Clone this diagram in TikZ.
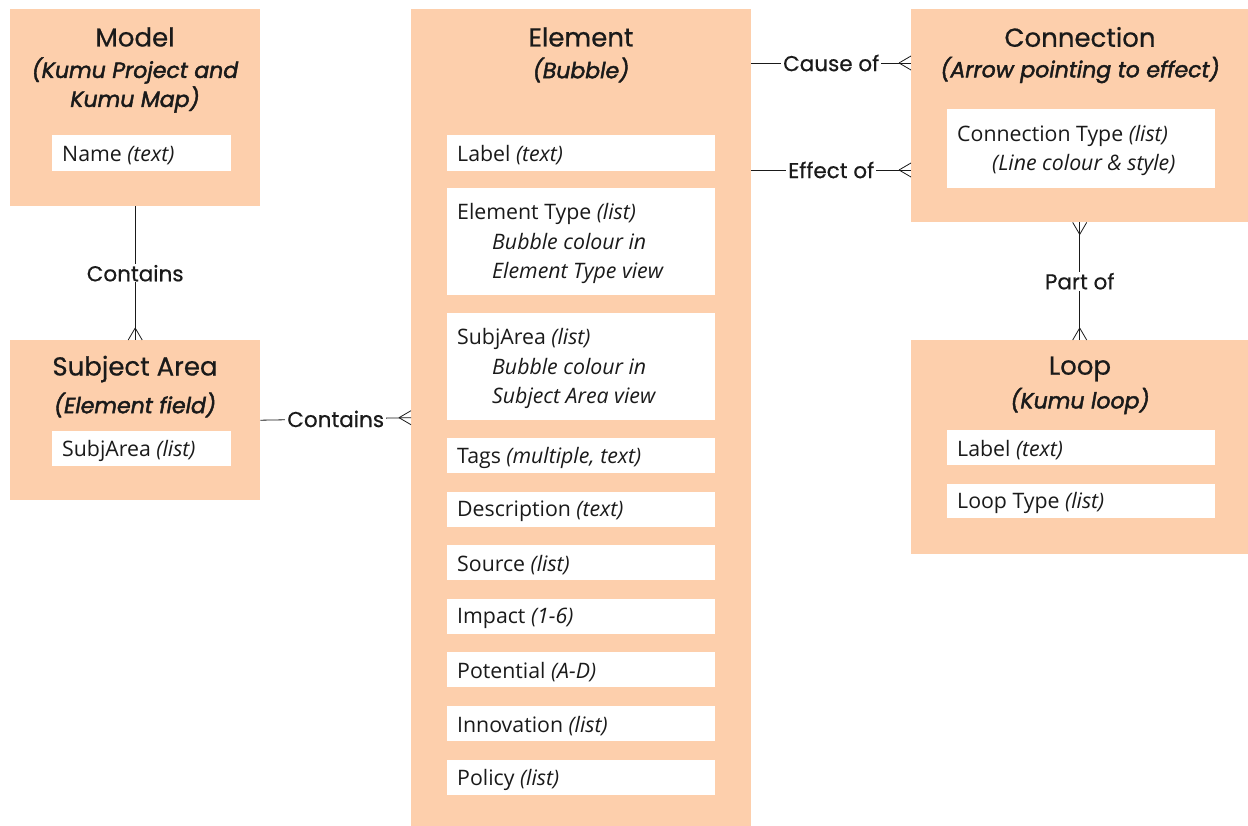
\documentclass[tikz,border=0pt]{standalone}
\usepackage{fontspec}
\setmainfont{Open Sans}
\newfontfamily\headfont{Poppins}[UprightFeatures={FakeBold=0.6}]
\newfontfamily\subfont{Poppins}[UprightFont=* Italic, UprightFeatures={FakeBold=2}]
\usetikzlibrary{calc}
\definecolor{peach}{HTML}{FDCFAC}
\definecolor{ink}{HTML}{1A1A1A}
\tikzset{
  entity/.style={fill=peach, draw=none, anchor=north west, inner sep=0pt},
  fieldbox/.style={fill=white, draw=none, anchor=north west, inner sep=0pt},
  fieldtext/.style={anchor=west, inner sep=0pt, align=left, text=ink,
    font=\fontsize{21.3}{29.5}\selectfont},
  title/.style={font=\headfont\fontsize{26}{30}\selectfont, text=ink, inner sep=0pt},
  subtitle/.style={font=\subfont\fontsize{22}{29}\selectfont, text=ink, inner sep=0pt, align=center},
  rel/.style={draw=ink, line width=0.8pt},
  rellabel/.style={fill=white, inner xsep=2pt, inner ysep=1pt, text=ink,
    font=\headfont\fontsize{21.5}{22}\selectfont},
}
\newcommand{\ind}{\hspace*{35pt}}
% \attr{name}{x}{y}{width}{height}{text}: white attribute field with its text
\newcommand{\attr}[6]{%
  \node[fieldbox, minimum width=#4pt, minimum height=#5pt] (#1) at (#2,#3) {};
  \node[fieldtext] (#1-t) at ($(#1.west)+(10,2)$) {#6};
}
\begin{document}
\begin{tikzpicture}[x=1pt,y=-1pt]
\useasboundingbox[fill=white] (0,0) rectangle (1248,826);

% entity boxes
\node[entity, minimum width=250pt, minimum height=197pt] (model) at (10,9) {};
\node[entity, minimum width=250pt, minimum height=160pt] (subj) at (10,340) {};
\node[entity, minimum width=340pt, minimum height=817pt] (elem) at (411,9) {};
\node[entity, minimum width=337pt, minimum height=213pt] (conn) at (911,9) {};
\node[entity, minimum width=337pt, minimum height=214pt] (loop) at (911,340) {};

% titles
\node[title] (modelT) at (135,37) {Model};
\node[subtitle] (modelS) at (135,85) {(Kumu Project and\\Kumu Map)};
\node[title] (subjT) at (135,369) {Subject Area};
\node[subtitle] (subjS) at (135,405) {(Element field)};
\node[title] (elemT) at (581,37) {Element};
\node[subtitle] (elemS) at (581,70) {(Bubble)};
\node[title] (connT) at (1080,37) {Connection};
\node[subtitle] (connS) at (1080,70) {(Arrow pointing to effect)};
\node[title] (loopT) at (1080,369) {Loop};
\node[subtitle] (loopS) at (1080,401) {(Kumu loop)};

% attribute fields
\attr{fName}{52}{135}{179}{36}{Name \textit{(text)}}
\attr{fSubj}{52}{431}{179}{35}{SubjArea \textit{(list)}}

\attr{fLabel}{447}{135}{268}{36}{Label \textit{(text)}}
\attr{fType}{447}{188}{268}{107}{Element Type \textit{(list)}\\\ind\textit{Bubble colour in}\\\ind\textit{Element Type view}}
\attr{fArea}{447}{313}{268}{107}{SubjArea \textit{(list)}\\\ind\textit{Bubble colour in}\\\ind\textit{Subject Area view}}
\attr{fTags}{447}{438}{268}{35}{Tags \textit{(multiple, text)}}
\attr{fDesc}{447}{492}{268}{35}{Description \textit{(text)}}
\attr{fSrc}{447}{545}{268}{35}{Source \textit{(list)}}
\attr{fImp}{447}{599}{268}{35}{Impact \textit{(1-6)}}
\attr{fPot}{447}{652}{268}{35}{Potential \textit{(A-D)}}
\attr{fInn}{447}{706}{268}{35}{Innovation \textit{(list)}}
\attr{fPol}{447}{760}{268}{35}{Policy \textit{(list)}}

\attr{fCT}{947}{109}{268}{79}{Connection Type \textit{(list)}\\\ind\textit{(Line colour \& style)}}

\attr{fLL}{947}{430}{268}{35}{Label \textit{(text)}}
\attr{fLT}{947}{484}{268}{34}{Loop Type \textit{(list)}}

% relationship end points on the entity edges
\coordinate (causeA) at ($(elem.north east)+(0,54)$);
\coordinate (causeB) at ($(conn.north west)+(0,54)$);
\coordinate (effA) at ($(elem.north east)+(0,161)$);
\coordinate (effB) at ($(conn.north west)+(0,161)$);

% relationships
\draw[rel] (model.south) -- node[rellabel] {Contains} (subj.north);
\draw[rel] ($(subj.north)+(0,-12)$) -- ++(-7,12) ($(subj.north)+(0,-12)$) -- ++(7,12);

\draw[rel] (subj.east) -- node[rellabel] {Contains} (elem.west);
\draw[rel] ($(elem.west)+(-12,0)$) -- ++(12,-7) ($(elem.west)+(-12,0)$) -- ++(12,7);

\draw[rel] (causeA) -- node[rellabel] {Cause of} (causeB);
\draw[rel] ($(causeB)+(-12,0)$) -- ++(12,-7) ($(causeB)+(-12,0)$) -- ++(12,7);

\draw[rel] (effA) -- node[rellabel] {Effect of} (effB);
\draw[rel] ($(effB)+(-12,0)$) -- ++(12,-7) ($(effB)+(-12,0)$) -- ++(12,7);

\draw[rel] (conn.south) -- node[rellabel] {Part of} (loop.north);
\draw[rel] ($(conn.south)+(0,12)$) -- ++(-7,-12) ($(conn.south)+(0,12)$) -- ++(7,-12);
\draw[rel] ($(loop.north)+(0,-12)$) -- ++(-7,12) ($(loop.north)+(0,-12)$) -- ++(7,12);
\end{tikzpicture}
\end{document}
